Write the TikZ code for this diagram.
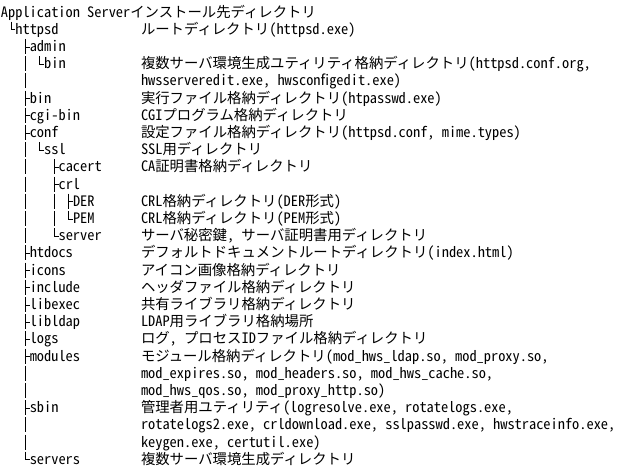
\documentclass[tikz,border=0pt]{standalone}
\usepackage{fontspec}
\setmainfont{Noto Sans CJK JP}[RawFeature=+hwid]
\begin{document}
\begin{tikzpicture}[x=0.75pt,y=-0.75pt,
  txt/.style={anchor=base west,inner sep=0pt,outer sep=0pt,font=\fontsize{10.78pt}{12pt}\selectfont},
  tree/.style={line width=0.6pt}]
\useasboundingbox (0,0) rectangle (624,468);
\newcommand\elbow[1]{\draw[tree] ([shift={(-4.5,-12.5)}]#1.base west) |- ([shift={(0,-4.5)}]#1.base west);}
\newcommand\tee[1]{\draw[tree] ([shift={(-4.5,-12.5)}]#1.base west) -- ([shift={(-4.5,2.5)}]#1.base west) ([shift={(-4.5,-4.5)}]#1.base west) -- ([shift={(0,-4.5)}]#1.base west);}
% title
\node[txt] (root) at (1,17) {Application Serverインストール先ディレクトリ};
% names
\node[txt] (httpsd) at (15.4,34.2) {httpsd};
\node[txt] (admin) at (29.8,51.4) {admin};
\node[txt] (adminbin) at (44.2,68.6) {bin};
\node[txt] (bin) at (29.8,103) {bin};
\node[txt] (cgibin) at (29.8,120.2) {cgi-bin};
\node[txt] (conf) at (29.8,137.4) {conf};
\node[txt] (ssl) at (44.2,154.6) {ssl};
\node[txt] (cacert) at (58.6,171.8) {cacert};
\node[txt] (crl) at (58.6,189) {crl};
\node[txt] (der) at (73,206.2) {DER};
\node[txt] (pem) at (73,223.4) {PEM};
\node[txt] (server) at (58.6,240.6) {server};
\node[txt] (htdocs) at (29.8,257.8) {htdocs};
\node[txt] (icons) at (29.8,275) {icons};
\node[txt] (include) at (29.8,292.2) {include};
\node[txt] (libexec) at (29.8,309.4) {libexec};
\node[txt] (libldap) at (29.8,326.6) {libldap};
\node[txt] (logs) at (29.8,343.8) {logs};
\node[txt] (modules) at (29.8,361) {modules};
\node[txt] (sbin) at (29.8,412.6) {sbin};
\node[txt] (servers) at (29.8,464.2) {servers};
% descriptions
\node[txt] (d2) at (141,34.2) {ルートディレクトリ(httpsd.exe)};
\node[txt] (d4) at (141,68.6) {複数サーバ環境生成ユティリティ格納ディレクトリ(httpsd.conf.org,};
\node[txt] (d5) at (141,85.8) {hwsserveredit.exe, hwsconfigedit.exe)};
\node[txt] (d6) at (141,103) {実行ファイル格納ディレクトリ(htpasswd.exe)};
\node[txt] (d7) at (141,120.2) {CGIプログラム格納ディレクトリ};
\node[txt] (d8) at (141,137.4) {設定ファイル格納ディレクトリ(httpsd.conf, mime.types)};
\node[txt] (d9) at (141,154.6) {SSL用ディレクトリ};
\node[txt] (d10) at (141,171.8) {CA証明書格納ディレクトリ};
\node[txt] (d12) at (141,206.2) {CRL格納ディレクトリ(DER形式)};
\node[txt] (d13) at (141,223.4) {CRL格納ディレクトリ(PEM形式)};
\node[txt] (d14) at (141,240.6) {サーバ秘密鍵, サーバ証明書用ディレクトリ};
\node[txt] (d15) at (141,257.8) {デフォルトドキュメントルートディレクトリ(index.html)};
\node[txt] (d16) at (141,275) {アイコン画像格納ディレクトリ};
\node[txt] (d17) at (141,292.2) {ヘッダファイル格納ディレクトリ};
\node[txt] (d18) at (141,309.4) {共有ライブラリ格納ディレクトリ};
\node[txt] (d19) at (141,326.6) {LDAP用ライブラリ格納場所};
\node[txt] (d20) at (141,343.8) {ログ, プロセスIDファイル格納ディレクトリ};
\node[txt] (d21) at (141,361) {モジュール格納ディレクトリ(mod\_hws\_ldap.so, mod\_proxy.so,};
\node[txt] (d22) at (141,378.2) {mod\_expires.so, mod\_headers.so, mod\_hws\_cache.so,};
\node[txt] (d23) at (141,395.4) {mod\_hws\_qos.so, mod\_proxy\_http.so)};
\node[txt] (d24) at (141,412.6) {管理者用ユティリティ(logresolve.exe, rotatelogs.exe,};
\node[txt] (d25) at (141,429.8) {rotatelogs2.exe, crldownload.exe, sslpasswd.exe, hwstraceinfo.exe,};
\node[txt] (d26) at (141,447) {keygen.exe, certutil.exe)};
\node[txt] (d27) at (141,464.2) {複数サーバ環境生成ディレクトリ};
% tree connectors
\elbow{httpsd}
\tee{admin}
\elbow{adminbin}
\tee{bin}
\tee{cgibin}
\tee{conf}
\elbow{ssl}
\tee{cacert}
\tee{crl}
\tee{der}
\elbow{pem}
\elbow{server}
\tee{htdocs}
\tee{icons}
\tee{include}
\tee{libexec}
\tee{libldap}
\tee{logs}
\tee{modules}
\tee{sbin}
\elbow{servers}
% continuation bars
\foreach \b in {68.6,85.8,154.6,171.8,189,206.2,223.4,240.6,378.2,395.4,429.8,447}
  \draw[tree] (25.3,\b-12.5) -- (25.3,\b+2.5);
\foreach \b in {206.2,223.4}
  \draw[tree] (54.1,\b-12.5) -- (54.1,\b+2.5);
\end{tikzpicture}
\end{document}
